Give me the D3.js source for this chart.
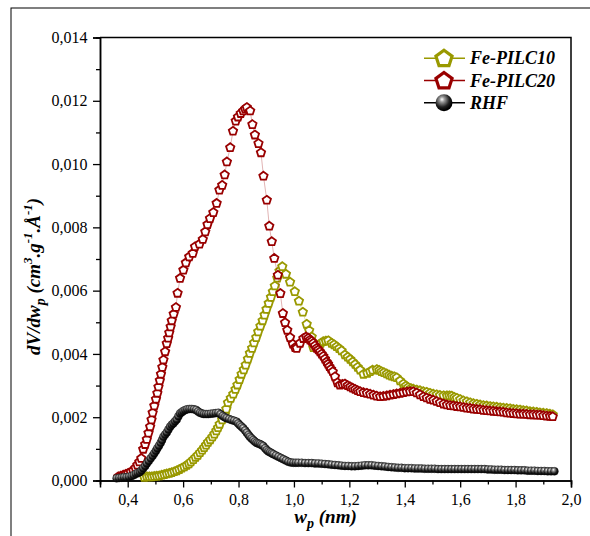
<!DOCTYPE html>
<html>
<head>
<meta charset="utf-8">
<script src="https://cdn.jsdelivr.net/npm/d3@7"></script>
<style>
  html, body { margin: 0; padding: 0; background: #ffffff; }
  svg { display: block; }
  text { font-family: "Liberation Serif", "Times New Roman", serif; }
</style>
</head>
<body>
<svg id="chart" width="590" height="536"></svg>
<script>
// Pore size distribution, dV/dwp versus pore width wp (nm)

const seriesNames = ["Fe-PILC10", "Fe-PILC20", "RHF"];
const seriesColors = ["#999900", "#990000", "#000000"];

const xTicks = [0.4, 0.6, 0.8, 1.0, 1.2, 1.4, 1.6, 1.8, 2.0];
const yTicks = [0, 0.002, 0.004, 0.006, 0.008, 0.010, 0.012, 0.014];

// Fe-PILC10: [wp, dV/dwp]
const pilc10 = [
  [0.460,0.00010],[0.469,0.00012],[0.478,0.00012],[0.487,0.00012],[0.496,0.00013],[0.505,0.00014],
  [0.514,0.00015],[0.523,0.00017],[0.532,0.00019],[0.541,0.00021],[0.550,0.00023],[0.559,0.00025],
  [0.568,0.00028],[0.577,0.00031],[0.586,0.00035],[0.595,0.00039],[0.604,0.00043],[0.613,0.00048],
  [0.621,0.00053],[0.628,0.00059],[0.637,0.00066],[0.645,0.00073],[0.653,0.00080],[0.661,0.00088],
  [0.669,0.00096],[0.676,0.00104],[0.683,0.00112],[0.690,0.00121],[0.698,0.00129],[0.706,0.00138],
  [0.713,0.00147],[0.720,0.00157],[0.726,0.00167],[0.732,0.00178],[0.741,0.00192],[0.750,0.00207],
  [0.756,0.00226],[0.762,0.00246],[0.772,0.00260],[0.781,0.00273],[0.789,0.00288],[0.796,0.00302],
  [0.804,0.00319],[0.811,0.00336],[0.819,0.00350],[0.826,0.00365],[0.834,0.00384],[0.841,0.00402],
  [0.849,0.00418],[0.856,0.00435],[0.864,0.00452],[0.871,0.00470],[0.879,0.00488],[0.887,0.00505],
  [0.894,0.00523],[0.901,0.00541],[0.909,0.00560],[0.917,0.00579],[0.924,0.00597],[0.931,0.00615],
  [0.940,0.00640],[0.948,0.00662],[0.958,0.00676],[0.971,0.00652],[0.986,0.00627],[1.003,0.00597],
  [1.018,0.00567],[1.032,0.00532],[1.046,0.00494],[1.055,0.00474],[1.064,0.00454],[1.070,0.00420],
  [1.079,0.00423],[1.088,0.00428],[1.097,0.00434],[1.106,0.00439],[1.115,0.00441],[1.124,0.00442],
  [1.136,0.00434],[1.145,0.00429],[1.154,0.00423],[1.163,0.00417],[1.172,0.00410],[1.184,0.00397],
  [1.194,0.00390],[1.203,0.00383],[1.212,0.00375],[1.221,0.00367],[1.230,0.00358],[1.239,0.00349],
  [1.251,0.00336],[1.265,0.00339],[1.275,0.00344],[1.284,0.00349],[1.299,0.00351],[1.308,0.00348],
  [1.316,0.00344],[1.325,0.00341],[1.335,0.00337],[1.344,0.00333],[1.353,0.00330],[1.362,0.00328],
  [1.371,0.00325],[1.383,0.00315],[1.395,0.00305],[1.404,0.00299],[1.412,0.00294],[1.422,0.00291],
  [1.431,0.00289],[1.443,0.00286],[1.455,0.00284],[1.467,0.00281],[1.479,0.00279],[1.491,0.00276],
  [1.503,0.00273],[1.515,0.00271],[1.527,0.00269],[1.540,0.00268],[1.552,0.00268],[1.561,0.00268],
  [1.570,0.00267],[1.579,0.00263],[1.588,0.00260],[1.600,0.00256],[1.612,0.00252],[1.624,0.00249],
  [1.636,0.00246],[1.648,0.00243],[1.660,0.00241],[1.672,0.00239],[1.684,0.00237],[1.696,0.00236],
  [1.708,0.00234],[1.720,0.00233],[1.732,0.00232],[1.744,0.00230],[1.756,0.00229],[1.768,0.00228],
  [1.780,0.00227],[1.792,0.00225],[1.804,0.00224],[1.816,0.00223],[1.828,0.00221],[1.840,0.00220],
  [1.852,0.00218],[1.864,0.00217],[1.876,0.00216],[1.888,0.00214],[1.900,0.00213],[1.912,0.00212],
  [1.924,0.00210],[1.934,0.00208]
];

// Fe-PILC20: [wp, dV/dwp]
const pilc20 = [
  [0.366,0.00012],[0.375,0.00014],[0.384,0.00017],[0.393,0.00020],[0.402,0.00023],[0.411,0.00027],
  [0.420,0.00031],[0.428,0.00040],[0.435,0.00049],[0.442,0.00059],[0.449,0.00070],[0.456,0.00099],
  [0.463,0.00114],[0.469,0.00130],[0.475,0.00150],[0.481,0.00170],[0.486,0.00192],[0.490,0.00214],
  [0.496,0.00236],[0.502,0.00257],[0.507,0.00276],[0.511,0.00296],[0.516,0.00316],[0.520,0.00336],
  [0.525,0.00358],[0.529,0.00381],[0.535,0.00407],[0.541,0.00433],[0.546,0.00450],[0.550,0.00467],
  [0.555,0.00486],[0.559,0.00505],[0.566,0.00526],[0.574,0.00547],[0.580,0.00592],[0.589,0.00639],
  [0.601,0.00665],[0.610,0.00688],[0.622,0.00707],[0.635,0.00718],[0.643,0.00739],[0.659,0.00747],
  [0.671,0.00762],[0.680,0.00786],[0.688,0.00809],[0.697,0.00828],[0.709,0.00847],[0.721,0.00876],
  [0.731,0.00918],[0.741,0.00933],[0.750,0.00966],[0.758,0.01007],[0.770,0.01052],[0.780,0.01104],
  [0.790,0.01136],[0.798,0.01149],[0.808,0.01160],[0.817,0.01168],[0.824,0.01174],[0.830,0.01179],
  [0.842,0.01168],[0.850,0.01125],[0.859,0.01092],[0.872,0.01065],[0.881,0.01036],[0.890,0.00962],
  [0.902,0.00886],[0.911,0.00804],[0.920,0.00755],[0.929,0.00702],[0.942,0.00649],[0.951,0.00591],
  [0.960,0.00528],[0.968,0.00499],[0.976,0.00475],[0.986,0.00452],[0.996,0.00431],[1.004,0.00420],
  [1.010,0.00418],[1.022,0.00434],[1.034,0.00449],[1.044,0.00454],[1.052,0.00450],[1.058,0.00444],
  [1.064,0.00440],[1.070,0.00434],[1.076,0.00426],[1.082,0.00418],[1.088,0.00413],[1.094,0.00407],
  [1.100,0.00400],[1.106,0.00393],[1.112,0.00384],[1.118,0.00375],[1.123,0.00368],[1.128,0.00360],
  [1.134,0.00352],[1.140,0.00344],[1.148,0.00328],[1.157,0.00309],[1.166,0.00302],[1.175,0.00304],
  [1.184,0.00305],[1.194,0.00300],[1.203,0.00296],[1.212,0.00292],[1.221,0.00288],[1.230,0.00284],
  [1.239,0.00281],[1.251,0.00278],[1.263,0.00276],[1.275,0.00273],[1.287,0.00270],[1.299,0.00267],
  [1.311,0.00265],[1.323,0.00266],[1.335,0.00268],[1.347,0.00270],[1.359,0.00272],[1.371,0.00274],
  [1.383,0.00276],[1.395,0.00278],[1.407,0.00280],[1.419,0.00281],[1.431,0.00281],[1.443,0.00277],
  [1.455,0.00271],[1.467,0.00265],[1.479,0.00261],[1.491,0.00257],[1.503,0.00254],[1.515,0.00250],
  [1.527,0.00246],[1.540,0.00242],[1.552,0.00239],[1.564,0.00237],[1.576,0.00236],[1.588,0.00234],
  [1.600,0.00233],[1.612,0.00231],[1.624,0.00229],[1.636,0.00228],[1.648,0.00226],[1.660,0.00225],
  [1.672,0.00224],[1.684,0.00222],[1.696,0.00221],[1.708,0.00220],[1.720,0.00219],[1.732,0.00218],
  [1.744,0.00217],[1.756,0.00216],[1.768,0.00214],[1.780,0.00213],[1.792,0.00212],[1.804,0.00211],
  [1.816,0.00210],[1.828,0.00210],[1.840,0.00209],[1.852,0.00208],[1.864,0.00208],[1.876,0.00207],
  [1.888,0.00207],[1.900,0.00205],[1.912,0.00204],[1.924,0.00203],[1.934,0.00202]
];

// RHF: [wp, dV/dwp]
const rhf = [
  [0.360,0.00007],[0.369,0.00008],[0.378,0.00009],[0.387,0.00010],[0.396,0.00010],[0.405,0.00012],
  [0.414,0.00014],[0.422,0.00017],[0.430,0.00021],[0.437,0.00024],[0.444,0.00027],[0.450,0.00032],
  [0.456,0.00039],[0.463,0.00046],[0.469,0.00054],[0.476,0.00062],[0.483,0.00070],[0.490,0.00078],
  [0.496,0.00086],[0.502,0.00094],[0.507,0.00102],[0.513,0.00110],[0.519,0.00119],[0.524,0.00128],
  [0.529,0.00138],[0.535,0.00145],[0.541,0.00152],[0.547,0.00161],[0.553,0.00170],[0.559,0.00176],
  [0.565,0.00181],[0.571,0.00187],[0.577,0.00193],[0.583,0.00203],[0.589,0.00212],[0.595,0.00216],
  [0.601,0.00220],[0.608,0.00223],[0.615,0.00225],[0.623,0.00226],[0.631,0.00226],[0.639,0.00225],
  [0.647,0.00223],[0.654,0.00218],[0.661,0.00214],[0.668,0.00212],[0.675,0.00210],[0.683,0.00210],
  [0.691,0.00210],[0.700,0.00211],[0.709,0.00212],[0.718,0.00213],[0.727,0.00214],[0.735,0.00209],
  [0.743,0.00204],[0.750,0.00200],[0.757,0.00197],[0.766,0.00194],[0.775,0.00191],[0.784,0.00189],
  [0.793,0.00186],[0.799,0.00180],[0.805,0.00175],[0.811,0.00170],[0.817,0.00165],[0.824,0.00158],
  [0.830,0.00151],[0.836,0.00144],[0.841,0.00138],[0.847,0.00133],[0.853,0.00128],[0.859,0.00123],
  [0.865,0.00119],[0.871,0.00117],[0.877,0.00115],[0.883,0.00112],[0.889,0.00109],[0.896,0.00102],
  [0.902,0.00096],[0.908,0.00092],[0.914,0.00089],[0.920,0.00086],[0.926,0.00083],[0.935,0.00079],
  [0.944,0.00075],[0.953,0.00071],[0.962,0.00067],[0.971,0.00063],[0.980,0.00059],[0.989,0.00057],
  [0.998,0.00056],[1.007,0.00056],[1.016,0.00056],[1.028,0.00056],[1.040,0.00055],[1.052,0.00055],
  [1.064,0.00055],[1.076,0.00054],[1.088,0.00054],[1.100,0.00053],[1.112,0.00052],[1.124,0.00051],
  [1.136,0.00050],[1.148,0.00049],[1.160,0.00048],[1.172,0.00047],[1.184,0.00046],[1.196,0.00046],
  [1.208,0.00045],[1.220,0.00045],[1.232,0.00046],[1.244,0.00047],[1.256,0.00048],[1.268,0.00048],
  [1.280,0.00048],[1.292,0.00047],[1.304,0.00046],[1.316,0.00045],[1.328,0.00044],[1.340,0.00043],
  [1.352,0.00042],[1.364,0.00041],[1.376,0.00040],[1.388,0.00040],[1.400,0.00039],[1.412,0.00039],
  [1.424,0.00039],[1.436,0.00038],[1.448,0.00038],[1.460,0.00038],[1.472,0.00037],[1.484,0.00037],
  [1.496,0.00037],[1.508,0.00037],[1.520,0.00036],[1.532,0.00036],[1.544,0.00036],[1.556,0.00036],
  [1.568,0.00036],[1.580,0.00036],[1.592,0.00036],[1.604,0.00036],[1.616,0.00036],[1.628,0.00036],
  [1.640,0.00036],[1.652,0.00036],[1.664,0.00036],[1.676,0.00036],[1.688,0.00036],[1.700,0.00035],
  [1.712,0.00035],[1.724,0.00034],[1.736,0.00034],[1.748,0.00034],[1.760,0.00033],[1.772,0.00033],
  [1.784,0.00033],[1.796,0.00033],[1.808,0.00032],[1.820,0.00032],[1.832,0.00032],[1.844,0.00031],
  [1.856,0.00031],[1.868,0.00031],[1.880,0.00030],[1.892,0.00030],[1.904,0.00030],[1.916,0.00029],
  [1.928,0.00029],[1.940,0.00029]
];

const seriesData = [pilc10, pilc20, rhf];

const svg = d3.select("#chart");
const margin = { left: 100, top: 37.5, right: 19, bottom: 55.5 };
const W = 590, H = 536;
const innerW = W - margin.left - margin.right;
const innerH = H - margin.top - margin.bottom;

const x = d3.scaleLinear().domain([0.3, 2.0]).range([margin.left, margin.left + innerW]);
const y = d3.scaleLinear().domain([0, 0.014]).range([margin.top + innerH, margin.top]);

const fmt = (d, digits) => d.toFixed(digits).replace(".", ",");
const SERIF = '"Liberation Serif", "Times New Roman", serif';

// outer frame
svg.append("rect")
  .attr("x", 11).attr("y", 8).attr("width", 620).attr("height", 620)
  .attr("fill", "none").attr("stroke", "#000").attr("stroke-width", 1);

// sphere gradient for RHF markers
const defs = svg.append("defs");
const grad = defs.append("radialGradient").attr("id", "sphere")
  .attr("cx", "0.4").attr("cy", "0.35").attr("r", "0.6").attr("fx", "0.38").attr("fy", "0.3");
grad.append("stop").attr("offset", "0").attr("stop-color", "#ffffff");
grad.append("stop").attr("offset", "0.25").attr("stop-color", "#9a9a9a");
grad.append("stop").attr("offset", "0.7").attr("stop-color", "#202020");
grad.append("stop").attr("offset", "1").attr("stop-color", "#000000");

// pentagon path, point up
function pentagon(r) {
  const pts = d3.range(5).map(i => {
    const a = -Math.PI / 2 + i * 2 * Math.PI / 5;
    return [r * Math.cos(a), r * Math.sin(a)];
  });
  return "M" + pts.map(p => p[0].toFixed(2) + "," + p[1].toFixed(2)).join("L") + "Z";
}

// axes
const xAxis = d3.axisBottom(x).tickValues(xTicks).tickFormat(d => fmt(d, 1)).tickSize(7).tickPadding(6);
const xMinor = d3.axisBottom(x).tickValues(d3.range(0.3, 2.0001, 0.1).filter(v => !xTicks.some(t => Math.abs(t - v) < 1e-6))).tickFormat("").tickSize(4);
const yAxis = d3.axisLeft(y).tickValues(yTicks).tickFormat(d => fmt(d, 3)).tickSize(7).tickPadding(5.5);
const yMinor = d3.axisLeft(y).tickValues(d3.range(0.001, 0.014, 0.002)).tickFormat("").tickSize(4);

function styleAxis(g) {
  g.attr("font-family", SERIF);
  g.select(".domain").attr("stroke", "#000").attr("stroke-width", 1.5);
  g.selectAll(".tick line").attr("stroke", "#000").attr("stroke-width", 1.3);
  g.selectAll(".tick text").attr("fill", "#000").style("font-size", "16px")
    .style("font-family", SERIF);
}

svg.append("g").attr("transform", `translate(0,${margin.top + innerH})`).call(xAxis).call(styleAxis);
svg.append("g").attr("transform", `translate(0,${margin.top + innerH})`).call(xMinor).call(styleAxis);
svg.append("g").attr("transform", `translate(${margin.left},0)`).call(yAxis).call(styleAxis);
svg.append("g").attr("transform", `translate(${margin.left},0)`).call(yMinor).call(styleAxis);

// top and right frame lines
svg.append("path")
  .attr("d", `M${x(0.3)},${y(0.014)}H${x(2.0)}V${y(0)}`)
  .attr("fill", "none").attr("stroke", "#000").attr("stroke-width", 1.5);

// series: faint connecting line under the symbols
const line = d3.line().x(d => x(d[0])).y(d => y(d[1]));
seriesData.forEach((data, i) => {
  const g = svg.append("g");
  g.append("path").attr("d", line(data)).attr("fill", "none")
    .attr("stroke", seriesColors[i]).attr("stroke-width", 0.5).attr("stroke-opacity", 0.6);
  if (i < 2) {
    g.selectAll("path.m").data(data).join("path").attr("class", "m")
      .attr("d", pentagon(4.4))
      .attr("transform", d => `translate(${x(d[0])},${y(d[1])})`)
      .attr("fill", "#fff").attr("stroke", seriesColors[i]).attr("stroke-width", 1.8);
  } else {
    g.selectAll("circle").data(data).join("circle")
      .attr("cx", d => x(d[0])).attr("cy", d => y(d[1])).attr("r", 4)
      .attr("fill", "url(#sphere)").attr("stroke", "#111").attr("stroke-width", 0.4);
  }
});

// legend
const legend = svg.append("g");
seriesNames.forEach((name, i) => {
  const cy = 58.3 + i * 22.2;
  legend.append("line").attr("x1", 424).attr("x2", 465).attr("y1", cy).attr("y2", cy)
    .attr("stroke", seriesColors[i]).attr("stroke-width", 1.5);
  if (i < 2) {
    legend.append("path").attr("d", pentagon(8.5))
      .attr("transform", `translate(444,${cy + 0.5})`)
      .attr("fill", "#fff").attr("stroke", seriesColors[i]).attr("stroke-width", 3.2);
  } else {
    legend.append("circle").attr("cx", 444).attr("cy", cy).attr("r", 8.5)
      .attr("fill", "url(#sphere)");
  }
  legend.append("text").attr("x", 470).attr("y", cy + 6)
    .style("font-size", "18px").style("font-weight", "bold").style("font-style", "italic")
    .text(name);
});

// x axis title
const xt = svg.append("text").attr("x", x(1.114)).attr("y", 523).attr("text-anchor", "middle")
  .style("font-size", "19px").style("font-weight", "bold").style("font-style", "italic");
xt.append("tspan").text("w");
xt.append("tspan").attr("dy", 5).style("font-size", "14px").text("p");
xt.append("tspan").attr("dy", -5).text(" (nm)");

// y axis title
const yt = svg.append("text")
  .attr("transform", `translate(40,${y(0.00645)}) rotate(-90)`)
  .attr("text-anchor", "middle")
  .style("font-size", "19px").style("font-weight", "bold").style("font-style", "italic");
yt.append("tspan").text("dV/dw");
yt.append("tspan").attr("dy", 5).style("font-size", "14px").text("p");
yt.append("tspan").attr("dy", -5).text(" (cm");
yt.append("tspan").attr("dy", -8).style("font-size", "13px").text("3");
yt.append("tspan").attr("dy", 8).text(".g");
yt.append("tspan").attr("dy", -8).style("font-size", "13px").text("-1");
yt.append("tspan").attr("dy", 8).text(".Å");
yt.append("tspan").attr("dy", -8).style("font-size", "13px").text("-1");
yt.append("tspan").attr("dy", 8).text(")");
</script>
</body>
</html>
